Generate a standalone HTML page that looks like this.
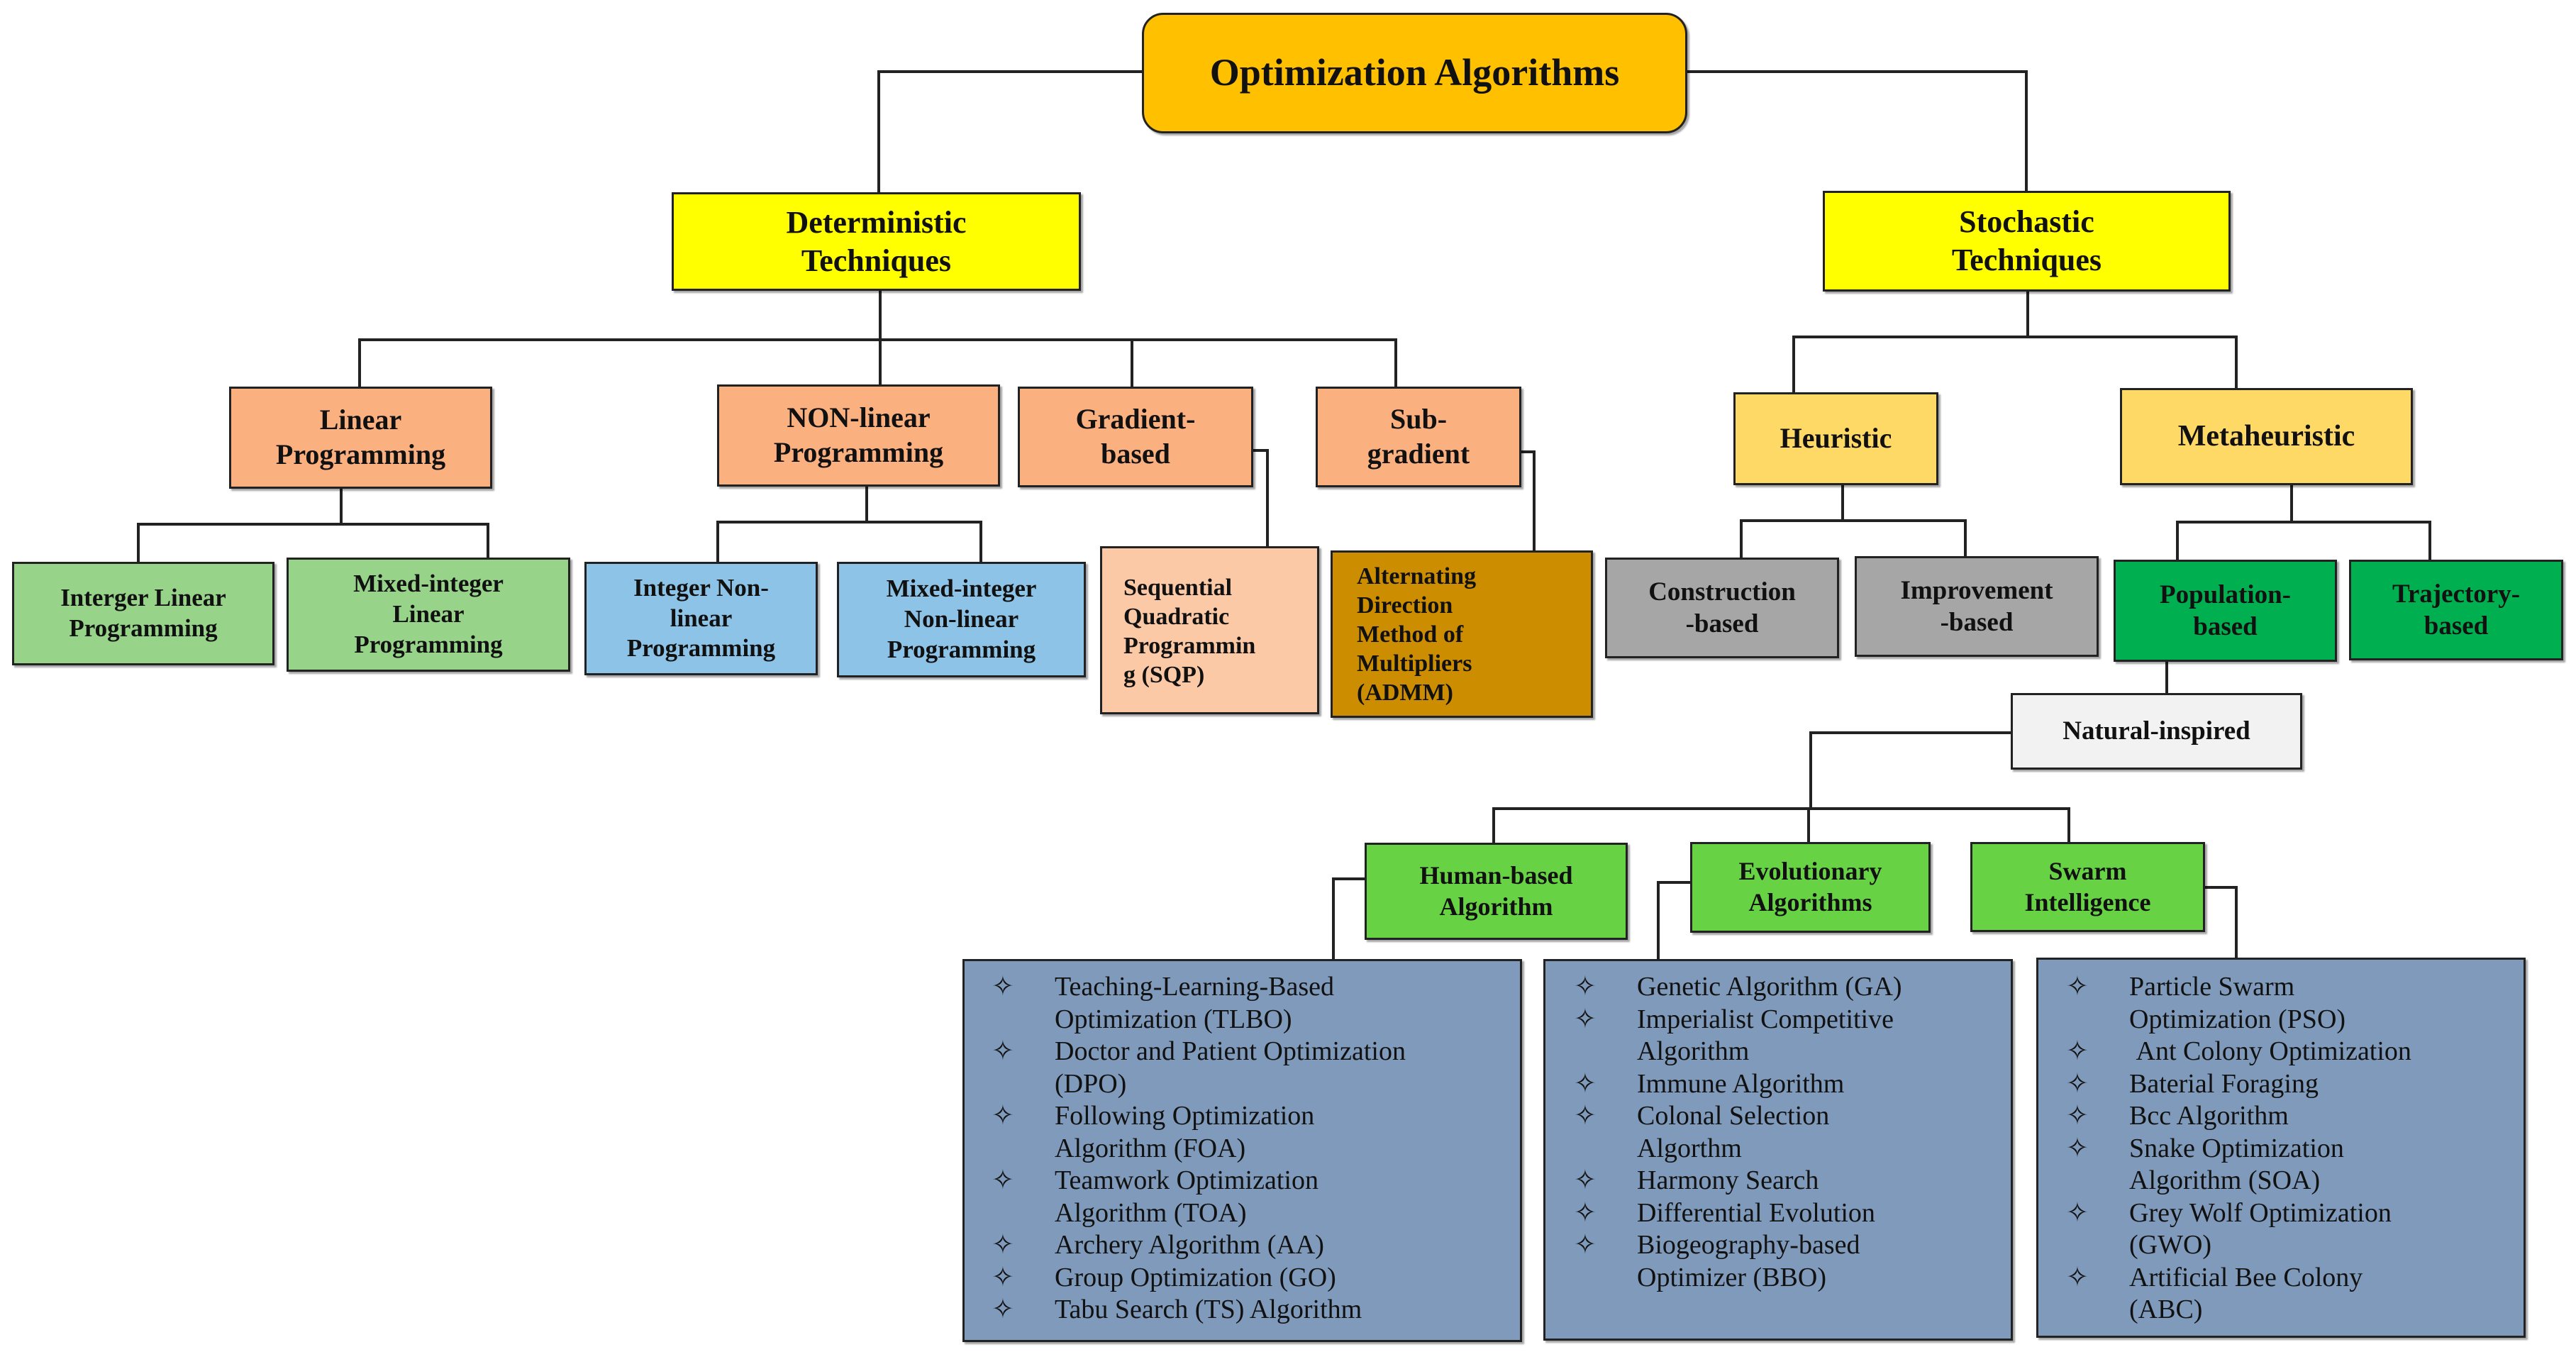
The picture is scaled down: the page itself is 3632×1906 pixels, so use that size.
<!DOCTYPE html>
<html><head><meta charset="utf-8"><style>
body{margin:0;width:3632px;height:1906px;background:#fff;position:relative;overflow:hidden;font-family:"Liberation Serif",serif;}
.b{position:absolute;box-sizing:border-box;border:3px solid #222;display:flex;align-items:center;justify-content:center;text-align:center;font-weight:bold;color:#111;box-shadow:3px 3px 2px rgba(0,0,0,0.35);line-height:1.22;}
.l{position:absolute;box-sizing:border-box;border:3px solid #222;background:#7f9aba;box-shadow:3px 3px 2px rgba(0,0,0,0.35);}
.t{position:absolute;font-size:38px;color:#111;white-space:nowrap;line-height:45.5px;}
.lt{position:absolute;font-weight:bold;font-size:34px;line-height:41px;white-space:nowrap;color:#111;}
</style></head><body>
<svg width="3632" height="1906" style="position:absolute;left:0;top:0" fill="none" stroke="#222" stroke-width="4">
<polyline points="1610,101 1239,101 1239,271"/>
<polyline points="2379,101 2857,101 2857,269"/>
<line x1="1241" y1="410" x2="1241" y2="479"/>
<polyline points="507,545 507,479 1968,479 1968,545"/>
<line x1="1241" y1="479" x2="1241" y2="542"/>
<line x1="1596" y1="479" x2="1596" y2="545"/>
<line x1="481" y1="689" x2="481" y2="739"/>
<polyline points="195,792 195,739 688,739 688,786"/>
<line x1="1222" y1="686" x2="1222" y2="736"/>
<polyline points="1012,792 1012,736 1383,736 1383,792"/>
<polyline points="1767,635 1787,635 1787,771"/>
<polyline points="2145,637 2163,637 2163,776"/>
<line x1="2859" y1="411" x2="2859" y2="475"/>
<polyline points="2529,553 2529,475 3153,475 3153,547"/>
<line x1="2598" y1="684" x2="2598" y2="734"/>
<polyline points="2455,786 2455,734 2771,734 2771,784"/>
<line x1="3231" y1="684" x2="3231" y2="736"/>
<polyline points="3070,789 3070,736 3426,736 3426,789"/>
<line x1="3055" y1="933" x2="3055" y2="977"/>
<polyline points="2835,1033 2553,1033 2553,1140"/>
<polyline points="2106,1188 2106,1140 2917,1140 2917,1187"/>
<line x1="2550" y1="1140" x2="2550" y2="1187"/>
<polyline points="1924,1239 1880,1239 1880,1352"/>
<polyline points="2383,1244 2338,1244 2338,1352"/>
<polyline points="3109,1251 3153,1251 3153,1350"/>
</svg>

<div class="b" style="left:1610px;top:18px;width:769px;height:170px;background:#ffc000;border-radius:30px;font-size:54px;">Optimization Algorithms</div>
<div class="b" style="left:947px;top:271px;width:577px;height:139px;background:#ffff00;font-size:44px;">Deterministic<br>Techniques</div>
<div class="b" style="left:2570px;top:269px;width:575px;height:142px;background:#ffff00;font-size:44px;">Stochastic<br>Techniques</div>

<div class="b" style="left:323px;top:545px;width:371px;height:144px;background:#fbb080;font-size:40px;">Linear<br>Programming</div>
<div class="b" style="left:1011px;top:542px;width:399px;height:144px;background:#fbb080;font-size:40px;">NON-linear<br>Programming</div>
<div class="b" style="left:1435px;top:545px;width:332px;height:142px;background:#fbb080;font-size:40px;">Gradient-<br>based</div>
<div class="b" style="left:1855px;top:545px;width:290px;height:142px;background:#fbb080;font-size:40px;">Sub-<br>gradient</div>

<div class="b" style="left:17px;top:792px;width:370px;height:146px;background:#98d38a;font-size:35px;">Interger Linear<br>Programming</div>
<div class="b" style="left:404px;top:786px;width:400px;height:161px;background:#98d38a;font-size:35px;">Mixed-integer<br>Linear<br>Programming</div>
<div class="b" style="left:824px;top:792px;width:329px;height:160px;background:#8dc3e6;font-size:35px;">Integer Non-<br>linear<br>Programming</div>
<div class="b" style="left:1180px;top:792px;width:351px;height:163px;background:#8dc3e6;font-size:35px;">Mixed-integer<br>Non-linear<br>Programming</div>

<div class="b" style="left:1551px;top:770px;width:309px;height:237px;background:#fcc9a7;"></div>
<div class="lt" style="left:1584px;top:808px;">Sequential<br>Quadratic<br>Programmin<br>g (SQP)</div>
<div class="b" style="left:1876px;top:776px;width:370px;height:236px;background:#cc8e00;"></div>
<div class="lt" style="left:1913px;top:792px;">Alternating<br>Direction<br>Method of<br>Multipliers<br>(ADMM)</div>

<div class="b" style="left:2444px;top:553px;width:289px;height:131px;background:#ffd966;font-size:40px;">Heuristic</div>
<div class="b" style="left:2989px;top:547px;width:413px;height:137px;background:#ffd966;font-size:42px;">Metaheuristic</div>
<div class="b" style="left:2263px;top:786px;width:330px;height:142px;background:#a6a6a6;font-size:37px;">Construction<br>-based</div>
<div class="b" style="left:2615px;top:784px;width:344px;height:142px;background:#a6a6a6;font-size:37px;">Improvement<br>-based</div>
<div class="b" style="left:2980px;top:789px;width:315px;height:144px;background:#00b050;font-size:37px;">Population-<br>based</div>
<div class="b" style="left:3312px;top:789px;width:302px;height:142px;background:#00b050;font-size:37px;">Trajectory-<br>based</div>
<div class="b" style="left:2835px;top:977px;width:411px;height:108px;background:#f2f2f2;font-size:37px;">Natural-inspired</div>

<div class="b" style="left:1924px;top:1188px;width:371px;height:137px;background:#66d244;font-size:36px;">Human-based<br>Algorithm</div>
<div class="b" style="left:2383px;top:1187px;width:339px;height:128px;background:#66d244;font-size:36px;">Evolutionary<br>Algorithms</div>
<div class="b" style="left:2778px;top:1187px;width:331px;height:127px;background:#66d244;font-size:36px;">Swarm<br>Intelligence</div>

<div class="l" style="left:1357px;top:1352px;width:789px;height:540px;"></div>
<div class="l" style="left:2176px;top:1352px;width:662px;height:538px;"></div>
<div class="l" style="left:2871px;top:1350px;width:690px;height:536px;"></div>

<div class="t" style="left:1398px;top:1369px;">✧<br><br>✧<br><br>✧<br><br>✧<br><br>✧<br>✧<br>✧</div>
<div class="t" style="left:1487px;top:1369px;">Teaching-Learning-Based<br>Optimization (TLBO)<br>Doctor and Patient Optimization<br>(DPO)<br>Following Optimization<br>Algorithm (FOA)<br>Teamwork Optimization<br>Algorithm (TOA)<br>Archery Algorithm (AA)<br>Group Optimization (GO)<br>Tabu Search (TS) Algorithm</div>

<div class="t" style="left:2219px;top:1369px;">✧<br>✧<br><br>✧<br>✧<br><br>✧<br>✧<br>✧</div>
<div class="t" style="left:2308px;top:1369px;">Genetic Algorithm (GA)<br>Imperialist Competitive<br>Algorithm<br>Immune Algorithm<br>Colonal Selection<br>Algorthm<br>Harmony Search<br>Differential Evolution<br>Biogeography-based<br>Optimizer (BBO)</div>

<div class="t" style="left:2913px;top:1369px;">✧<br><br>✧<br>✧<br>✧<br>✧<br><br>✧<br><br>✧</div>
<div class="t" style="left:3002px;top:1369px;">Particle Swarm<br>Optimization (PSO)<br>&nbsp;Ant Colony Optimization<br>Baterial Foraging<br>Bcc Algorithm<br>Snake Optimization<br>Algorithm (SOA)<br>Grey Wolf Optimization<br>(GWO)<br>Artificial Bee Colony<br>(ABC)</div>
</body></html>
